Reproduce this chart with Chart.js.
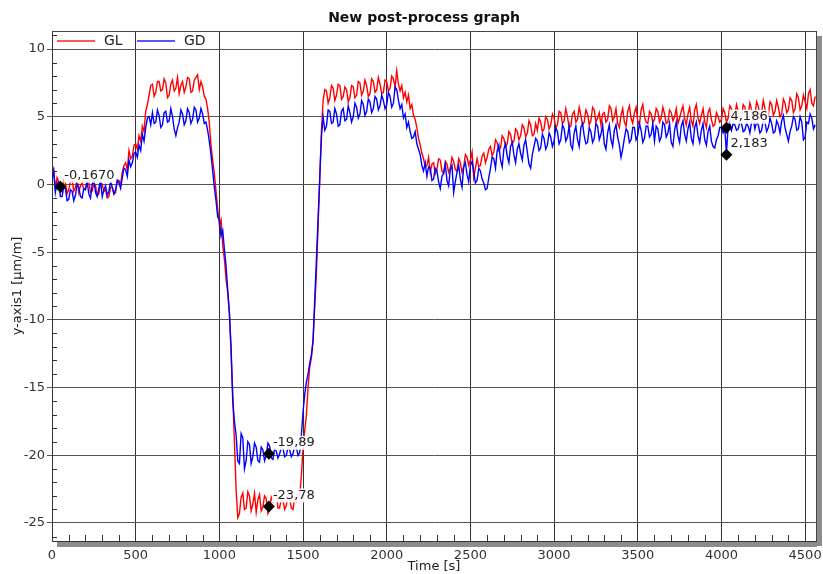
<!DOCTYPE html>
<html><head><meta charset="utf-8">
<script src="https://cdn.jsdelivr.net/npm/chart.js@4"></script>
<style>html,body{margin:0;padding:0;background:#fff}#wrap{width:823px;height:574px;position:relative}</style>
</head><body><div id="wrap"><canvas id="c" width="823" height="574"></canvas></div>
<script>
const chartTitle = "New post-process graph";
const xTitle = "Time [s]";
const yTitle = "y-axis1 [µm/m]";
const seriesNames = ["GL", "GD"];
const sampleStep = 10; // seconds between samples, first sample at t = 0

const glValues = [
  0.6, 1.1, -0.3, 0.5, 0.2, -0.6, -0.5, 0.3, 0.1, -0.7, -0.4, 0.2, 0.3, -0.5, -0.2, 0.4, -0.6, -0.1, 0.1, -0.4,
  -0.3, 0.3, 0.2, -0.6, -0.5, 0.1, -0.1, -0.8, -0.7, 0.2, 0.0, -0.5, -0.4, -1.0, -0.9, -0.2, -0.2, -0.7, -0.6, 0.3,
  0.3, 0.0, 0.9, 1.4, 1.6, 1.1, 2.5, 1.9, 2.1, 2.9, 3.0, 2.6, 3.6, 3.2, 4.3, 3.9, 5.4, 5.9, 6.6, 7.3,
  7.4, 6.5, 6.8, 7.6, 7.6, 6.9, 7.0, 7.8, 7.5, 6.4, 6.6, 7.4, 7.7, 6.9, 7.1, 7.9, 6.7, 7.3, 7.6, 6.8,
  7.2, 7.9, 7.8, 6.8, 6.9, 7.7, 7.9, 8.1, 7.0, 7.6, 7.2, 6.5, 6.3, 5.6, 4.5, 2.9, 1.8, 0.8, -0.5, -1.8,
  -3.0, -2.6, -4.5, -5.5, -7.0, -8.0, -9.5, -12.5, -15.5, -19.0, -22.5, -24.6, -24.3, -23.1, -22.8, -24.0, -23.9, -22.7, -23.0, -24.1,
  -23.6, -22.8, -24.2, -23.3, -22.9, -24.1, -23.8, -23.0, -23.2, -24.3, -24.0, -23.1, -23.4, -22.6, -22.8, -23.9, -23.9, -23.2, -23.3, -24.0,
  -23.7, -23.0, -23.1, -23.9, -24.0, -23.2, -23.4, -22.9, -23.0, -21.5, -19.5, -18.2, -17.0, -15.0, -13.5, -12.8, -11.5, -9.0, -6.5, -3.0,
  0.5, 4.0, 6.2, 7.0, 6.9, 6.0, 6.4, 7.3, 7.1, 6.2, 6.6, 7.4, 7.3, 6.3, 6.5, 7.2, 7.0, 6.1, 6.4, 7.3,
  7.2, 6.4, 6.6, 7.6, 7.5, 6.6, 6.9, 7.7, 7.3, 6.5, 6.7, 7.8, 7.6, 6.8, 7.0, 7.9, 7.4, 6.7, 6.8, 7.7,
  7.6, 6.9, 7.1, 8.0, 7.8, 7.2, 8.4, 7.4, 6.9, 7.3, 6.4, 6.8, 6.1, 6.6, 5.6, 5.9, 5.1, 4.8, 4.2, 3.4,
  2.9, 2.3, 1.9, 1.3, 1.4, 2.0, 0.9, 1.5, 1.6, 0.8, 1.1, 1.9, 1.8, 1.0, 0.8, 1.7, 1.5, 0.9, 1.2, 2.0,
  1.7, 1.1, 1.0, 1.9, 1.6, 0.9, 1.3, 2.2, 2.0, 1.4, 1.8, 2.4, 0.5, 1.2, 1.9, 1.3, 1.4, 2.1, 2.3, 1.6,
  2.0, 2.6, 2.8, 2.1, 2.4, 3.3, 3.1, 2.5, 2.7, 3.6, 3.4, 2.8, 3.0, 3.9, 3.7, 3.0, 3.2, 4.1, 3.9, 3.3,
  3.6, 4.4, 4.2, 3.5, 3.8, 4.7, 4.4, 3.6, 3.7, 4.5, 4.0, 4.9, 4.6, 3.9, 4.1, 5.0, 4.8, 4.1, 4.4, 5.2,
  4.9, 4.2, 4.4, 5.4, 5.3, 4.5, 4.7, 5.6, 5.0, 4.2, 4.3, 5.2, 5.4, 4.6, 4.8, 5.7, 5.1, 4.4, 4.6, 5.5,
  5.2, 4.4, 4.7, 5.7, 5.5, 4.6, 4.9, 5.3, 4.4, 5.2, 5.3, 4.6, 4.8, 5.8, 5.6, 4.7, 5.0, 5.6, 4.5, 4.2,
  5.1, 5.6, 4.6, 4.3, 5.4, 5.8, 4.9, 4.5, 5.3, 5.7, 4.7, 4.4, 5.5, 5.9, 5.0, 4.6, 4.5, 5.4, 5.2, 4.6,
  4.8, 5.6, 5.4, 4.6, 4.9, 5.7, 5.2, 4.5, 4.6, 5.5, 5.3, 4.7, 5.0, 5.6, 4.5, 4.9, 5.4, 5.8, 4.9, 4.4,
  5.2, 5.7, 4.7, 4.3, 5.5, 5.9, 4.9, 4.5, 5.1, 5.6, 4.6, 4.2, 5.3, 5.6, 4.8, 4.3, 4.4, 5.3, 5.0, 4.6,
  4.8, 5.6, 5.3, 4.6, 4.9, 5.8, 5.6, 4.8, 5.1, 5.9, 5.4, 4.7, 4.9, 5.9, 5.7, 4.9, 5.2, 6.0, 5.5, 4.8,
  5.0, 6.1, 5.8, 5.0, 5.3, 6.2, 5.6, 4.9, 5.1, 6.1, 5.9, 5.1, 5.4, 6.2, 5.7, 5.0, 5.2, 6.3, 6.0, 5.3,
  5.5, 6.4, 6.2, 5.3, 5.6, 6.7, 6.4, 5.5, 5.8, 6.6, 6.1, 5.6, 6.7, 7.0, 6.0, 5.8, 6.5
];

const gdValues = [
  0.4, 1.0, -0.6, 0.1, 0.2, -0.9, -0.9, -0.2, -0.3, -1.2, -1.1, -0.4, -0.5, -1.2, -0.8, 0.0, -0.2, -0.9, -1.0, -0.3,
  -0.4, 0.2, -0.7, -1.0, 0.0, 0.4, -0.6, -0.9, -0.3, 0.3, -0.9, -0.4, -0.1, -0.8, -0.5, 0.2, -0.2, -0.7, -0.4, 0.3,
  0.1, -0.3, 0.5, 1.2, 1.1, 0.6, 1.8, 1.3, 1.6, 2.3, 2.4, 2.0, 2.9, 2.5, 3.7, 3.2, 4.2, 4.9, 5.0, 4.4,
  5.3, 4.5, 4.6, 5.5, 5.1, 4.2, 4.4, 5.3, 5.4, 4.6, 4.7, 5.6, 5.0, 4.1, 3.6, 4.2, 4.6, 5.5, 5.2, 4.4,
  4.7, 5.6, 5.3, 4.5, 4.8, 5.7, 5.5, 4.6, 4.9, 5.6, 5.2, 4.5, 4.6, 4.0, 3.2, 2.2, 1.0, -0.2, -1.2, -2.4,
  -2.6, -3.8, -3.4, -4.8, -6.0, -7.8, -9.5, -12.0, -16.0, -17.5, -18.5, -20.4, -20.6, -18.4, -18.7, -21.0, -20.4, -19.0, -19.2, -20.6,
  -20.1, -19.1, -19.4, -20.4, -20.5, -19.4, -19.6, -20.4, -20.0, -19.1, -19.3, -20.2, -20.3, -19.5, -19.7, -20.2, -19.9, -19.4, -19.5, -20.1,
  -20.0, -19.4, -19.6, -20.1, -19.9, -19.3, -19.4, -20.0, -19.8, -18.5, -16.8, -15.5, -14.6, -14.0, -13.2, -12.6, -11.5, -8.5, -5.5, -2.5,
  0.5, 3.5, 5.0, 4.0, 4.3, 5.5, 5.4, 4.5, 4.6, 5.6, 5.2, 4.3, 4.4, 5.4, 5.6, 4.7, 4.8, 5.8, 5.3, 4.6,
  5.0, 6.0, 5.7, 4.9, 5.2, 6.2, 5.9, 5.1, 5.4, 6.3, 6.1, 5.3, 5.6, 6.5, 6.3, 5.5, 5.8, 6.6, 6.2, 5.6,
  5.9, 6.8, 6.5, 5.7, 6.0, 7.2, 7.0, 6.2, 5.6, 5.9, 4.9, 5.2, 4.2, 4.6, 3.9, 3.4, 3.5, 3.9, 3.0, 2.6,
  2.2, 1.4, 1.0, 1.6, 0.6, 1.3, 1.2, 0.3, 0.4, 1.2, 1.0, 0.2, -0.3, 0.6, 0.8, 1.5, 0.3, -0.1, 1.1, 1.4,
  -0.6, 0.2, 0.9, 1.4, 0.4, -0.2, 1.3, 1.6, 0.7, 0.2, 1.4, 1.7, 0.9, 0.1, 0.3, 1.2, 1.0, 0.4, 0.1, -0.4,
  -0.3, 0.5, 1.2, 2.0, 1.9, 1.2, 2.5, 2.9, 1.8, 1.3, 2.6, 3.0, 2.1, 1.6, 2.8, 3.1, 2.2, 1.6, 2.6, 3.0,
  2.3, 1.8, 2.9, 3.3, 2.4, 1.5, 1.2, 2.2, 2.8, 3.4, 3.2, 2.5, 2.7, 3.7, 3.4, 2.6, 2.9, 3.8, 3.5, 2.8,
  3.2, 4.2, 3.9, 3.0, 3.3, 4.4, 4.1, 3.2, 3.5, 4.3, 2.9, 2.6, 3.8, 4.3, 3.3, 2.8, 4.2, 4.5, 3.6, 3.0,
  3.1, 4.2, 3.9, 3.1, 3.4, 4.5, 4.3, 3.3, 3.7, 4.4, 3.0, 2.6, 3.8, 4.4, 3.3, 2.8, 4.0, 4.4, 3.5, 2.9,
  2.0, 2.6, 3.4, 4.1, 3.9, 3.1, 3.3, 4.2, 4.2, 3.3, 3.6, 4.5, 4.0, 3.1, 3.4, 4.3, 4.3, 3.5, 3.7, 4.5,
  3.2, 4.3, 4.1, 3.2, 3.5, 4.6, 4.4, 3.5, 3.8, 4.5, 3.1, 2.8, 4.0, 4.6, 3.6, 3.1, 4.3, 4.7, 3.7, 3.2,
  4.1, 4.6, 3.4, 3.0, 4.2, 4.6, 3.6, 3.1, 4.0, 4.5, 3.3, 2.9, 3.9, 4.3, 3.2, 2.8, 2.7, 3.3, 3.6, 4.2,
  4.2, 3.8, 4.1, 2.3, 4.3, 4.6, 4.0, 4.5, 4.4, 4.0, 4.1, 4.6, 4.5, 3.9, 4.0, 4.5, 4.3, 3.8, 4.6, 4.9,
  4.1, 4.6, 4.4, 3.8, 4.0, 4.8, 4.6, 3.9, 4.2, 4.9, 4.5, 3.8, 3.9, 4.7, 4.4, 3.8, 4.7, 5.1, 4.2, 3.7,
  3.2, 3.9, 4.3, 5.0, 4.8, 4.0, 4.1, 5.0, 4.6, 3.3, 3.5, 4.6, 4.5, 5.2, 4.9, 4.1, 4.4
];

const markerTimes = [50, 1296, 1296, 4030, 4030];
const markerValues = [-0.167, -19.89, -23.78, 4.186, 2.183];
const markerLabels = ["-0,1670", "-19,89", "-23,78", "4,186", "2,183"];

const xTickValues = [0, 500, 1000, 1500, 2000, 2500, 3000, 3500, 4000, 4500];
const yTickValues = [-25, -20, -15, -10, -5, 0, 5, 10];
const xMin = 0, xMax = 4565, xMinor = 100;
const yMin = -26.33, yMax = 11.33, yMinor = 1;

const FONT = "'DejaVu Sans', Verdana, sans-serif";

function toPoints(values) {
  return values.map((v, i) => ({ x: i * sampleStep, y: v }));
}
const markerPoints = markerTimes.map((t, i) => ({ x: t, y: markerValues[i] }));

const decor = {
  id: 'decor',
  afterDatasetsDraw(chart) {
    const ctx = chart.ctx;
    const meta = chart.getDatasetMeta(2);
    ctx.save();
    ctx.font = "13px " + FONT;
    ctx.textBaseline = 'middle';
    ctx.textAlign = 'left';
    meta.data.forEach((el, i) => {
      const tx = el.x + 4, ty = el.y - 11;
      const w = ctx.measureText(markerLabels[i]).width;
      ctx.fillStyle = 'rgba(255,255,255,0.92)';
      ctx.fillRect(tx - 1, ty - 7, w + 2, 14);
      ctx.fillStyle = '#222';
      ctx.fillText(markerLabels[i], tx, ty);
    });
    ctx.restore();
  },
  afterDraw(chart) {
    const { ctx, chartArea: a, scales: { x, y } } = chart;
    ctx.save();
    ctx.fillStyle = '#8c8c8c';
    ctx.fillRect(a.right + 1, a.top + 5, 5, a.bottom - a.top);
    ctx.fillRect(a.left + 5, a.bottom + 1, a.right - a.left - 4, 5);
    ctx.strokeStyle = '#444';
    ctx.lineWidth = 1;
    ctx.beginPath();
    ctx.moveTo(a.left, a.top + 0.5); ctx.lineTo(a.right + 0.5, a.top + 0.5);
    ctx.moveTo(a.right + 0.5, a.top); ctx.lineTo(a.right + 0.5, a.bottom);
    ctx.stroke();
    ctx.strokeStyle = '#333';
    ctx.beginPath();
    for (let v = Math.ceil(yMin); v <= yMax; v += yMinor) {
      if (yTickValues.includes(v)) continue;
      const py = Math.round(y.getPixelForValue(v)) + 0.5;
      ctx.moveTo(a.left, py); ctx.lineTo(a.left + 5, py);
    }
    for (let t = xMinor; t <= xMax; t += xMinor) {
      if (xTickValues.includes(t)) continue;
      const px = Math.round(x.getPixelForValue(t)) + 0.5;
      ctx.moveTo(px, a.bottom); ctx.lineTo(px, a.bottom - 6);
    }
    ctx.stroke();
    ctx.fillStyle = '#111';
    ctx.textAlign = 'center';
    ctx.textBaseline = 'middle';
    ctx.font = "bold 14px " + FONT;
    ctx.fillText(chartTitle, 424, 18);
    ctx.font = "13px " + FONT;
    ctx.fillStyle = '#222';
    ctx.fillText(xTitle, (a.left + a.right) / 2, 567);
    ctx.save();
    ctx.translate(18, (a.top + a.bottom) / 2);
    ctx.rotate(-Math.PI / 2);
    ctx.fillText(yTitle, 0, 0);
    ctx.restore();
    const colors = ['#ff2020', '#2020ff'];
    const lx = [57, 137];
    ctx.font = "14px " + FONT;
    ctx.textAlign = 'left';
    seriesNames.forEach((n, i) => {
      ctx.strokeStyle = colors[i];
      ctx.lineWidth = 1.5;
      ctx.beginPath();
      ctx.moveTo(lx[i], 41); ctx.lineTo(lx[i] + 38, 41);
      ctx.stroke();
      ctx.fillStyle = '#222';
      ctx.fillText(n, lx[i] + 47, 41);
    });
    ctx.restore();
  }
};

new Chart(document.getElementById('c'), {
  type: 'line',
  data: {
    datasets: [
      { label: seriesNames[0], data: toPoints(glValues), borderColor: '#ff0000', borderWidth: 1.4, pointRadius: 0, tension: 0, order: 2 },
      { label: seriesNames[1], data: toPoints(gdValues), borderColor: '#0000ff', borderWidth: 1.4, pointRadius: 0, tension: 0, order: 1 },
      { label: 'markers', data: markerPoints, showLine: false, pointStyle: 'rectRot', pointRadius: 6, backgroundColor: '#000', borderColor: '#000', borderWidth: 0, order: 0 }
    ]
  },
  options: {
    responsive: false,
    animation: false,
    devicePixelRatio: 1,
    layout: { padding: { top: 31, right: 7, left: 0, bottom: 0 } },
    plugins: { legend: { display: false }, title: { display: false }, tooltip: { enabled: false } },
    scales: {
      x: {
        type: 'linear', min: xMin, max: xMax,
        afterBuildTicks: s => { s.ticks = xTickValues.map(v => ({ value: v })); },
        ticks: { maxRotation: 0, minRotation: 0, autoSkip: false, padding: 7, color: '#333', font: { family: FONT, size: 13 }, callback: v => String(v) },
        grid: { color: '#333', lineWidth: 1, drawTicks: false },
        border: { display: true, color: '#333', width: 1 },
        afterFit: s => { s.height = 33; s.paddingLeft = 0; s.paddingRight = 0; }
      },
      y: {
        type: 'linear', min: yMin, max: yMax,
        afterBuildTicks: s => { s.ticks = yTickValues.map(v => ({ value: v })); },
        ticks: { padding: 2, color: '#333', font: { family: FONT, size: 13 }, callback: v => String(v) },
        grid: { color: '#555', lineWidth: 1, tickLength: 5 },
        border: { display: true, color: '#333', width: 1 },
        afterFit: s => { s.width = 52; s.paddingTop = 0; s.paddingBottom = 0; }
      }
    }
  },
  plugins: [decor]
});
</script>
</body></html>
